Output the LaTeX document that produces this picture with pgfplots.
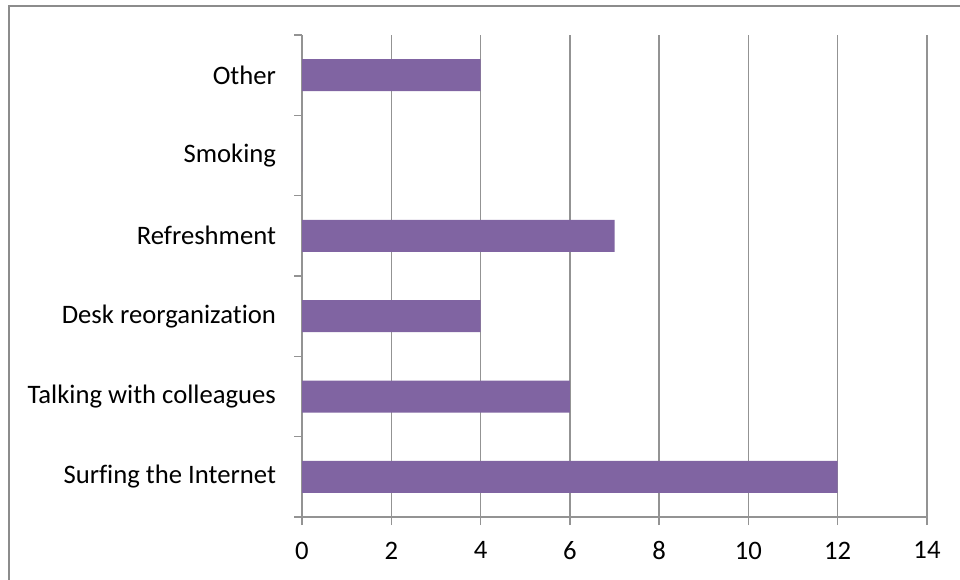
\documentclass[border=0pt]{standalone}
\usepackage{pgfplots}
\pgfplotsset{compat=1.18}
\usepackage{fontspec}
\setmainfont[Ligatures=NoCommon]{Carlito}
\definecolor{barpurple}{HTML}{8064A2}
\definecolor{gridgray}{HTML}{939393}
\definecolor{framegray}{HTML}{8C8C8C}

\begin{document}
\begin{tikzpicture}
\path[use as bounding box] (0pt,0pt) rectangle (720pt,434.25pt);
\draw[framegray, line width=1.3pt] (6.75pt,-3pt) -- (6.75pt,429.75pt) -- (725pt,429.75pt);
\begin{axis}[
  at={(226.5pt,46.5pt)}, anchor=south west,
  scale only axis, width=468.75pt, height=361.5pt,
  xbar, bar width=24pt,
  xmin=0, xmax=14, ymin=-0.5, ymax=5.5,
  enlarge x limits=false, enlarge y limits=false,
  xtick={0,2,...,14},
  ytick={-0.5,0.5,...,5.5}, yticklabels={},
  extra y ticks={0,1,2,3,4,5},
  extra y tick labels={Surfing the Internet, Talking with colleagues, Desk reorganization, Refreshment, Smoking, Other},
  extra y tick style={major tick length=0pt, grid=none},
  yticklabel style={xshift=-16pt},
  xticklabel style={yshift=-9pt},
  axis x line*=bottom, axis y line*=left,
  axis line style={gridgray, line width=1pt, -},
  tick align=outside, major tick length=6pt,
  tick style={gridgray, line width=1pt},
  xmajorgrids, major grid style={gridgray, line width=1pt},
  ticklabel style={font=\fontsize{20}{24}\selectfont, text=black},
  /pgf/number format/assume math mode=true,
]
\addplot[fill=barpurple, draw=none] coordinates {
  (12,0) (6,1) (4,2) (7,3) (0,4) (4,5)
};
\end{axis}
\end{tikzpicture}
\end{document}
